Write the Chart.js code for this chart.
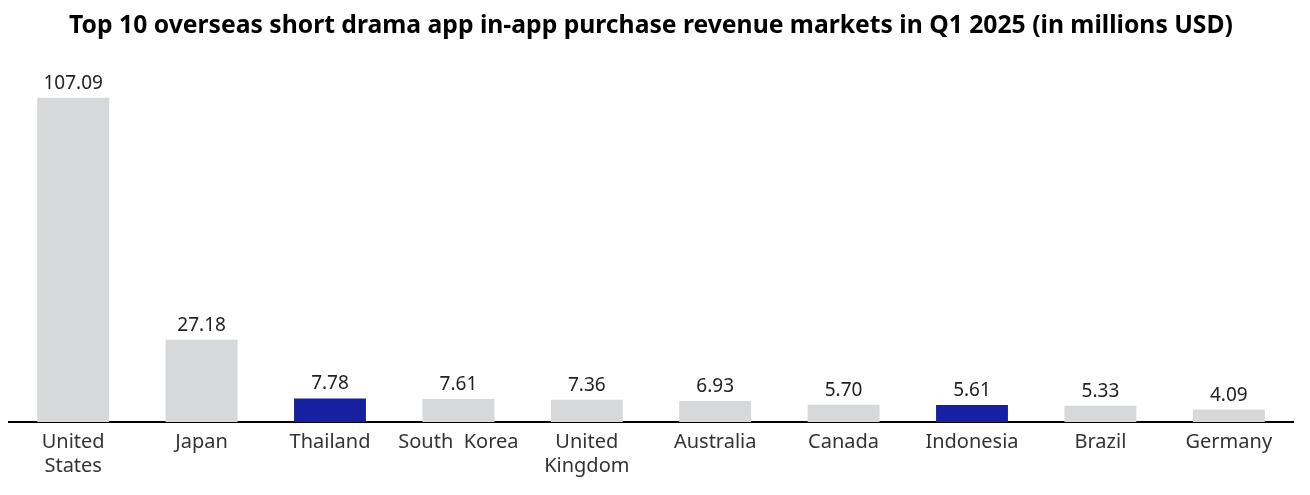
<!DOCTYPE html>
<html>
<head>
<meta charset="utf-8">
<script src="https://cdn.jsdelivr.net/npm/chart.js@4.4.1/dist/chart.umd.min.js"></script>
<style>
  html, body { margin: 0; padding: 0; background: #fff; }
  #wrap { width: 1310px; height: 495px; }
</style>
</head>
<body>
<div id="wrap"><canvas id="rev"></canvas></div>
<script>
// Q1 2025 in-app purchase revenue, millions USD
var markets = [["United", "States"], "Japan", "Thailand", "South  Korea", ["United", "Kingdom"],
               "Australia", "Canada", "Indonesia", "Brazil", "Germany"];
var revenue = [107.09, 27.18, 7.78, 7.61, 7.36, 6.93, 5.70, 5.61, 5.33, 4.09];
var highlighted = ["Thailand", "Indonesia"];

var grey = "#d6d8d9";
var blue = "#1620a0";

var barColors = markets.map(function (m) {
  return highlighted.indexOf(m) >= 0 ? blue : grey;
});

// numbers over each bar
var valueLabels = {
  id: "valueLabels",
  afterDatasetsDraw: function (chart) {
    var ctx = chart.ctx;
    var meta = chart.getDatasetMeta(0);
    ctx.save();
    ctx.font = "19px 'Noto Sans', sans-serif";
    ctx.fillStyle = "#222";
    ctx.textAlign = "center";
    ctx.textBaseline = "bottom";
    meta.data.forEach(function (bar, i) {
      ctx.fillText(revenue[i].toFixed(2), bar.x, bar.y - 5);
    });
    ctx.restore();
  }
};

new Chart(document.getElementById("rev"), {
  type: "bar",
  data: {
    labels: markets,
    datasets: [{
      data: revenue,
      backgroundColor: barColors,
      barPercentage: 0.56,
      categoryPercentage: 1.0
    }]
  },
  options: {
    responsive: true,
    maintainAspectRatio: false,
    animation: false,
    layout: { padding: { left: 9, right: 17, top: 0, bottom: 17 } },
    plugins: {
      legend: { display: false },
      tooltip: { enabled: false },
      title: {
        display: true,
        text: "Top 10 overseas short drama app in-app purchase revenue markets in Q1 2025 (in millions USD)",
        color: "#000",
        font: { family: "'Noto Sans', sans-serif", size: 24.7, weight: "bold" },
        padding: { top: 11, bottom: 18 }
      }
    },
    scales: {
      x: {
        grid: { display: false },
        border: { display: true, color: "#000", width: 2 },
        ticks: {
          color: "#333",
          font: { family: "'Noto Sans', sans-serif", size: 20 },
          maxRotation: 0,
          autoSkip: false,
          padding: 0
        }
      },
      y: {
        display: false,
        min: 0,
        max: 120
      }
    }
  },
  plugins: [valueLabels]
});
</script>
</body>
</html>
